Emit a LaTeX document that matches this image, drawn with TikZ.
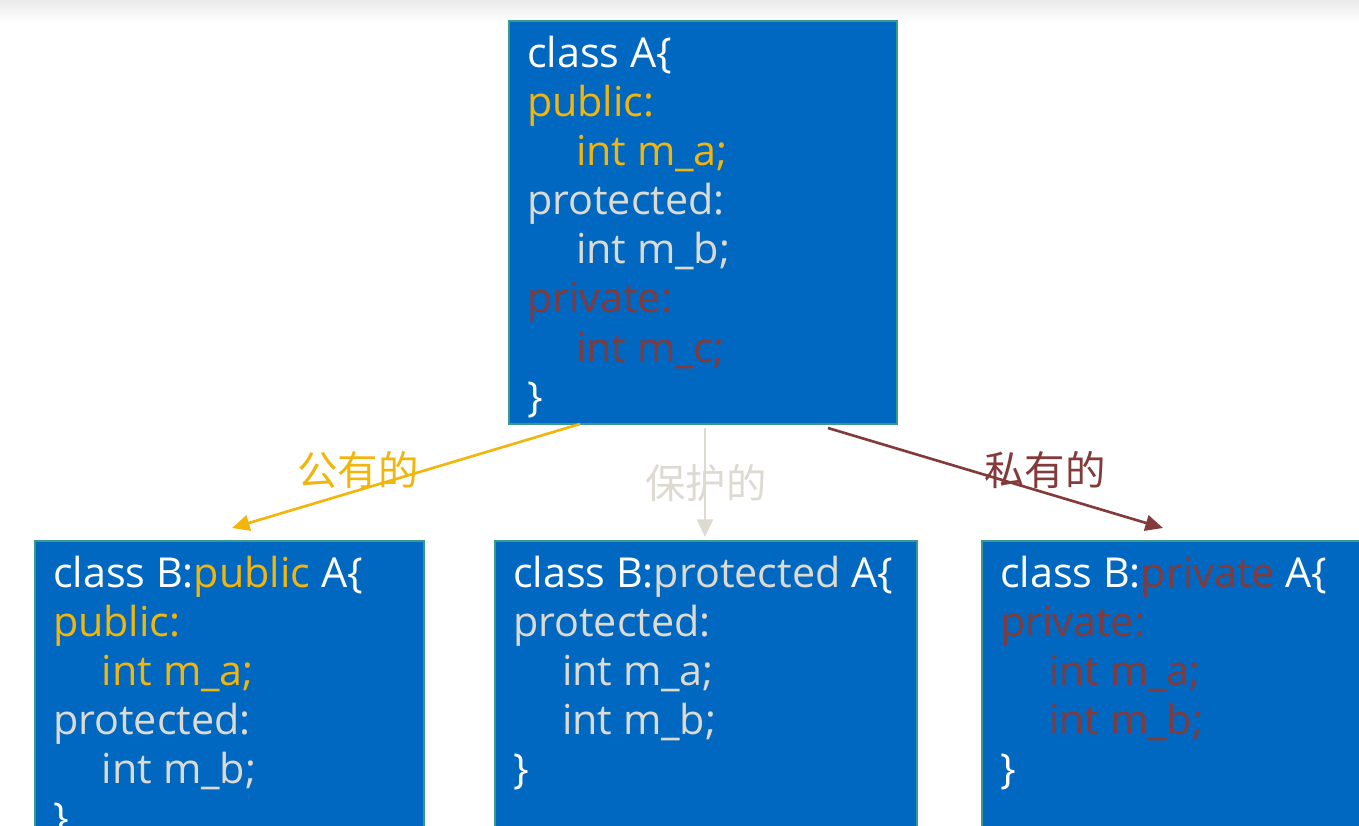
\documentclass[tikz,border=0pt]{standalone}
\usepackage{fontspec}
\setmainfont{Open Sans}
\newfontfamily\cjk{Noto Sans CJK SC}
\usetikzlibrary{arrows.meta,positioning}
\definecolor{Box}{HTML}{0068C0}
\definecolor{Edge}{HTML}{3A9A8A}
\definecolor{Gold}{HTML}{F2B50C}
\definecolor{Ash}{HTML}{DDDAD2}
\definecolor{Maroon}{HTML}{833A3A}
\newcommand{\indt}{\hspace*{0.98cm}}

\begin{document}
\begin{tikzpicture}[
    classbox/.style={draw=Edge,line width=1pt,fill=Box,text=white,anchor=north west,
      inner xsep=0.36cm,inner ysep=0.25cm,outer sep=0pt,
      font=\fontsize{23.5pt}{27.9pt}\selectfont},
    inh/.style={line width=1.5pt,-{Triangle[length=10pt,width=9pt]}},
    lbl/.style={font=\cjk\fontsize{23pt}{27pt}\selectfont}]
  \useasboundingbox (0,0) rectangle (27.18,-16.5);
  \clip (0,0) rectangle (27.18,-16.5);
  \shade[top color=black!8,bottom color=white] (0,0) rectangle (27.18,-0.45);

  \node[classbox] (boxA) at (10.18,-0.42) {\parbox[b][7.56cm][t]{7.04cm}{\raggedright\strut
    class A\{\\
    {\color{Gold}public:}\\
    \indt{\color{Gold}int m\_a;}\\
    {\color{Ash}protected:}\\
    \indt{\color{Ash}int m\_b;}\\
    {\color{Maroon}private:}\\
    \indt{\color{Maroon}int m\_c;}\\
    \}}};

  \node[classbox] (boxPub) at (0.70,-10.82) {\parbox[b][6.4cm][t]{7.06cm}{\raggedright\strut
    class B:{\color{Gold}public} A\{\\
    {\color{Gold}public:}\\
    \indt{\color{Gold}int m\_a;}\\
    {\color{Ash}protected:}\\
    \indt{\color{Ash}int m\_b;}\\
    \}}};
  \node[classbox] (boxProt) at (9.90,-10.82) {\parbox[b][6.4cm][t]{7.72cm}{\raggedright\strut
    class B:{\color{Ash}protected} A\{\\
    {\color{Ash}protected:}\\
    \indt{\color{Ash}int m\_a;}\\
    \indt{\color{Ash}int m\_b;}\\
    \}}};
  \node[classbox] (boxPriv) at (19.64,-10.82) {\parbox[b][6.4cm][t]{7.6cm}{\raggedright\strut
    class B:{\color{Maroon}private} A\{\\
    {\color{Maroon}private:}\\
    \indt{\color{Maroon}int m\_a;}\\
    \indt{\color{Maroon}int m\_b;}\\
    \}}};

  \coordinate (pubFrom) at ([xshift=1.42cm]boxA.south west);
  \coordinate (protFrom) at ([xshift=3.92cm,yshift=-0.08cm]boxA.south west);
  \coordinate (privFrom) at ([xshift=6.38cm,yshift=-0.08cm]boxA.south west);
  \coordinate (pubTo) at ([xshift=3.94cm,yshift=0.26cm]boxPub.north west);
  \coordinate (protTo) at ([xshift=4.2cm,yshift=0.08cm]boxProt.north west);
  \coordinate (privTo) at ([xshift=3.62cm,yshift=0.26cm]boxPriv.north west);

  \draw[inh,Gold] (pubFrom) -- (pubTo);
  \draw[inh,Ash] (protFrom) -- (protTo);
  \draw[inh,Maroon] (privFrom) -- (privTo);

  \node[lbl,text=Gold] (lblPub) at (7.16,-9.40) {公有的};
  \node[lbl,text=Ash] (lblProt) at (14.12,-9.66) {保护的};
  \node[lbl,text=Maroon] (lblPriv) at (20.90,-9.40) {私有的};
\end{tikzpicture}
\end{document}
